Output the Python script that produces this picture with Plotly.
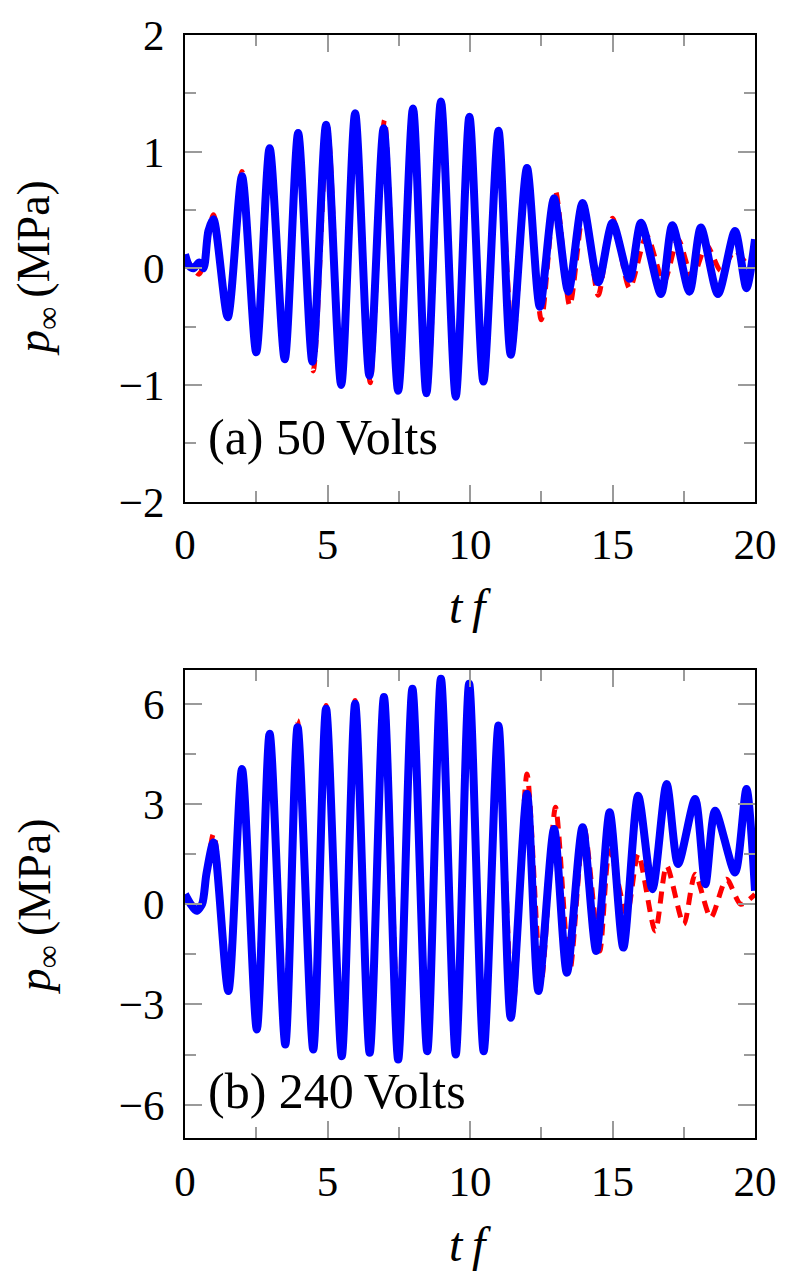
import plotly.graph_objects as go
from plotly.subplots import make_subplots

# ---------------- (a) 50 Volts ----------------
t_a_blue = [0, 0.15, 0.3, 0.5, 0.65, 0.82, 1.0, 1.5, 2.0, 2.5, 2.97, 3.5, 3.97, 4.47, 4.95,
            5.48, 5.97, 6.47, 6.97, 7.48, 8.0, 8.47, 8.98, 9.5, 9.98, 10.47, 11.0, 11.43,
            12.0, 12.45, 12.95, 13.45, 13.95, 14.5, 15.0, 15.6, 16.0, 16.7, 17.1, 17.7,
            18.1, 18.7, 19.3, 19.7, 20.0]
p_a_blue = [0.12, 0.02, 0.0, 0.05, 0.0, 0.32, 0.42, -0.42, 0.79, -0.72, 1.03, -0.78, 1.16,
            -0.8, 1.23, -1.0, 1.33, -0.92, 1.2, -1.05, 1.37, -1.07, 1.43, -1.1, 1.3, -0.97,
            1.18, -0.74, 0.86, -0.33, 0.6, -0.2, 0.56, -0.12, 0.39, -0.09, 0.39, -0.22,
            0.37, -0.2, 0.35, -0.22, 0.32, -0.17, 0.25]

t_a_red = [0, 0.5, 1.0, 1.5, 2.0, 2.5, 3.0, 3.5, 4.0, 4.5, 5.0, 5.5, 6.0, 6.5, 7.0, 7.5, 8.0,
           8.5, 9.0, 9.5, 10.0, 10.5, 11.0, 11.5, 12.0, 12.5, 13.0, 13.5, 14.0, 14.5, 15.0,
           15.6, 16.2, 16.8, 17.3, 17.8, 18.3, 18.8, 19.3, 19.8, 20.0]
p_a_red = [0.1, -0.05, 0.46, -0.4, 0.83, -0.7, 0.99, -0.81, 1.13, -0.88, 1.21, -0.98, 1.28,
           -0.98, 1.27, -1.05, 1.32, -1.07, 1.33, -1.08, 1.28, -0.97, 1.17, -0.66, 0.83,
           -0.44, 0.66, -0.32, 0.52, -0.23, 0.43, -0.17, 0.28, -0.12, 0.25, -0.08, 0.2,
           -0.02, 0.15, 0.02, 0.19]

# ---------------- (b) 240 Volts ----------------
t_b_blue = [0, 0.2, 0.4, 0.6, 0.75, 1.0, 1.52, 2.0, 2.52, 2.97, 3.52, 3.95, 4.5, 4.95, 5.5,
            5.97, 6.48, 6.98, 7.48, 7.98, 8.5, 8.98, 9.5, 9.97, 10.48, 11.0, 11.43, 12.0,
            12.4, 12.95, 13.4, 13.95, 14.43, 14.9, 15.38, 15.9, 16.4, 16.9, 17.3, 17.9,
            18.26, 18.6, 19.3, 19.7, 20.0]
p_b_blue = [0.3, 0.0, -0.2, 0.0, 0.9, 1.85, -2.6, 4.05, -3.75, 5.1, -4.2, 5.3, -4.35, 5.85,
            -4.55, 6.0, -4.45, 6.2, -4.65, 6.45, -4.4, 6.75, -4.5, 6.6, -4.4, 5.35, -3.4,
            3.3, -2.6, 2.25, -2.05, 2.3, -1.4, 2.75, -1.3, 3.25, 0.45, 3.6, 1.2, 3.15,
            0.6, 2.8, 0.95, 3.45, 0.4]

t_b_red = [0, 0.5, 1.0, 1.5, 2.0, 2.5, 3.0, 3.5, 3.95, 4.5, 4.95, 5.5, 5.97, 6.5, 7.0, 7.5,
           8.0, 8.5, 9.0, 9.5, 10.0, 10.5, 11.0, 11.5, 12.0, 12.5, 13.0, 13.5, 14.0, 14.55,
           14.9, 15.5, 15.9, 16.5, 16.9, 17.5, 17.9, 18.45, 19.0, 19.5, 20.0]
p_b_red = [0.2, -0.1, 2.1, -2.2, 3.8, -2.9, 5.0, -3.3, 5.5, -3.6, 5.95, -3.8, 6.1, -3.9, 6.3,
           -3.9, 6.4, -3.8, 6.5, -3.8, 6.4, -4.2, 5.0, -3.2, 3.9, -2.3, 2.9, -2.0, 2.3,
           -1.4, 1.6, -0.3, 1.5, -0.8, 1.15, -0.6, 0.9, -0.4, 0.75, 0.0, 0.3]

x_ticks = [0, 5, 10, 15, 20]
y_ticks_a = [-2, -1, 0, 1, 2]
y_ticks_b = [-6, -3, 0, 3, 6]

FONT = "Liberation Serif"
BLUE = "#0000ff"
RED = "#ff0000"

fig = make_subplots(rows=2, cols=1, vertical_spacing=0.0)

panels = [
    (1, t_a_red, p_a_red, t_a_blue, p_a_blue),
    (2, t_b_red, p_b_red, t_b_blue, p_b_blue),
]
for row, tr, pr, tb, pb in panels:
    fig.add_trace(go.Scatter(x=tr, y=pr, mode="lines", line_shape="spline",
                             line=dict(color=RED, width=5, dash="12px,8px", smoothing=0.75),
                             showlegend=False, hoverinfo="skip"), row=row, col=1)
    fig.add_trace(go.Scatter(x=tb, y=pb, mode="lines", line_shape="spline",
                             line=dict(color=BLUE, width=8, smoothing=0.75),
                             showlegend=False, hoverinfo="skip"), row=row, col=1)

H = 1111.0
dom_top = [(1138 - 497) / H, 1.0]
dom_bot = [0.0, 471 / H]

axis_common = dict(showline=True, linecolor="black", linewidth=2, mirror="ticks",
                   ticks="inside", ticklen=17, tickwidth=1.5, tickcolor="#9a9a9a",
                   showgrid=False, zeroline=False,
                   tickfont=dict(family=FONT, size=43, color="black"))

for ax in ["xaxis", "xaxis2"]:
    fig.layout[ax].update(range=[0, 20], tickvals=x_ticks, ticktext=[str(v) for v in x_ticks],
                          minor=dict(dtick=2.5, tick0=0, ticks="inside", ticklen=11,
                                     tickwidth=1.5, tickcolor="#9a9a9a"),
                          ticklabelstandoff=4, **axis_common)

def lab(v):
    return ("\u2212" + str(-v)) if v < 0 else str(v)

fig.layout.yaxis.update(domain=dom_top, range=[-2, 2], tickvals=y_ticks_a,
                        ticktext=[lab(v) for v in y_ticks_a],
                        minor=dict(dtick=0.5, tick0=0, ticks="inside", ticklen=11,
                                   tickwidth=1.5, tickcolor="#9a9a9a"),
                        ticklabelstandoff=10, **axis_common)
fig.layout.yaxis2.update(domain=dom_bot, range=[-7, 7], tickvals=y_ticks_b,
                         ticktext=[lab(v) for v in y_ticks_b],
                         minor=dict(dtick=1.5, tick0=0, ticks="inside", ticklen=11,
                                    tickwidth=1.5, tickcolor="#9a9a9a"),
                         ticklabelstandoff=10, **axis_common)

ann = []
# panel labels
ann.append(dict(xref="x", yref="y", x=0.75, y=-1.45, text="(a) 50\u2009Volts", showarrow=False,
                xanchor="left", yanchor="middle", font=dict(family=FONT, size=50, color="black")))
ann.append(dict(xref="x2", yref="y2", x=0.75, y=-5.58, text="(b) 240\u2009Volts", showarrow=False,
                xanchor="left", yanchor="middle", font=dict(family=FONT, size=50, color="black")))
# axis titles
for yc in [0.7885, 0.2097]:
    ann.append(dict(xref="paper", yref="paper", x=-0.2587, y=yc, textangle=-90,
                    text="<i>p</i><sub>\u221e</sub>\u2009(MPa)", showarrow=False,
                    xanchor="center", yanchor="middle",
                    font=dict(family=FONT, size=46, color="black")))
for yc in [(1138 - 603) / H, (1138 - 1245) / H]:
    ann.append(dict(xref="paper", yref="paper", x=0.5, y=yc, text="<i>t\u2009f</i>",
                    showarrow=False, xanchor="center", yanchor="middle",
                    font=dict(family=FONT, size=48, color="black")))

fig.update_layout(width=789, height=1275, margin=dict(l=185, r=28, t=27, b=137),
                  paper_bgcolor="white", plot_bgcolor="white", annotations=ann)

fig.write_html("out.html")
